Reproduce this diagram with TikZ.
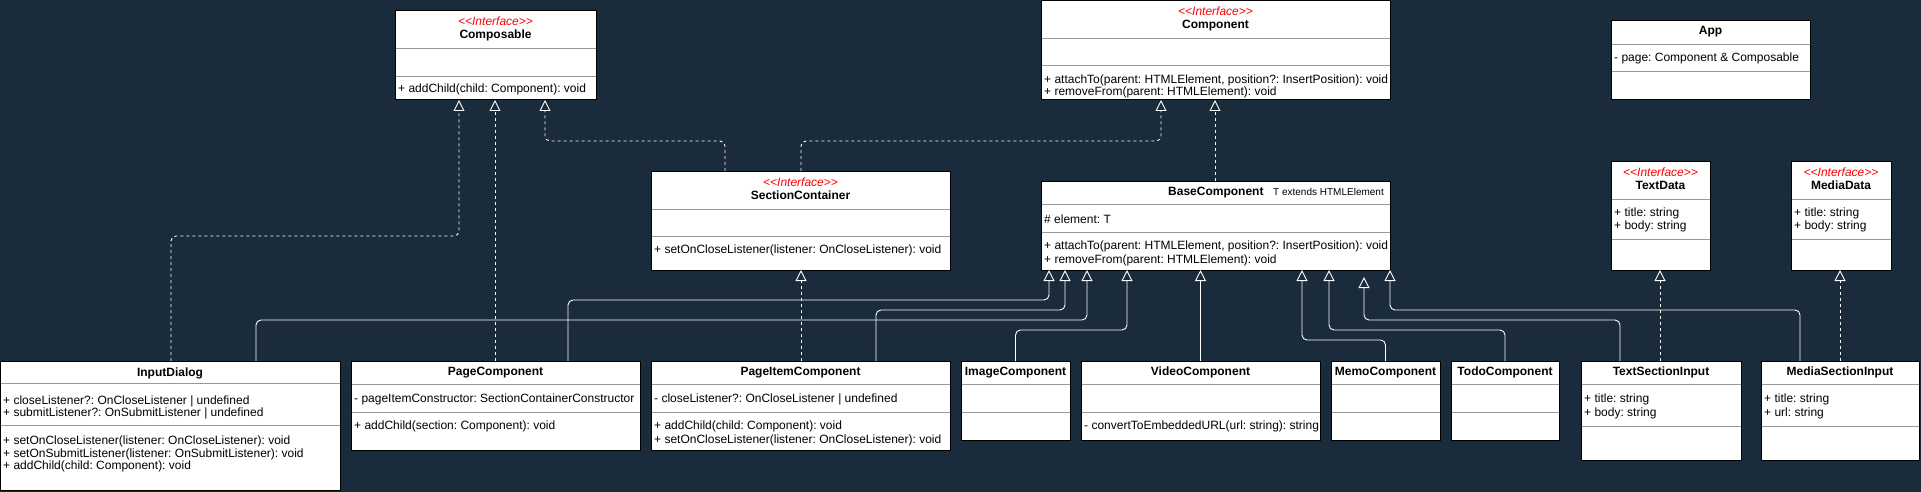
\documentclass[tikz,border=0pt]{standalone}
\usepackage{fontspec}
\setmainfont{Liberation Sans}
\usetikzlibrary{arrows.meta}
\definecolor{bgnavy}{HTML}{1A2B3C}
\definecolor{stereored}{HTML}{FF0000}
\frenchspacing

\newcommand{\stereotype}[1]{<\kern0pt<#1>\kern0pt>}
% name, left, top, right, bottom, first divider, second divider
\newcommand{\classbox}[7]{%
  \node[cls, minimum width=#4-#2, minimum height=#5-#3] (#1) at (#2,#3) {};
  \draw[divider] (#2+0.5,#6) -- (#4-0.5,#6);
  \draw[divider] (#2+0.5,#7) -- (#4-0.5,#7);
}

\begin{document}
\begin{tikzpicture}[x=1pt, y=-1pt,
    every node/.style={inner sep=0, font=\fontsize{12}{14}\selectfont},
    cls/.style={draw=black, fill=white, line width=1pt, anchor=north west, outer sep=0},
    divider/.style={draw=black!40, line width=0.8pt},
    stereo/.style={anchor=base, text=stereored, font=\fontsize{12}{14}\selectfont\itshape},
    cname/.style={anchor=base, font=\fontsize{12}{14}\selectfont\bfseries},
    member/.style={anchor=base west},
    conn/.style={draw=white, line width=0.9pt, rounded corners=5pt,
                 -{Triangle[open, length=11pt, width=11pt]}},
    realize/.style={conn, dash pattern=on 3pt off 3pt},
    inherit/.style={conn}
]
    \fill[bgnavy] (0,0) rectangle (1921,492);
    \useasboundingbox (0,0) rectangle (1921,492);

    % interfaces
    \classbox{composable}{395}{11}{596}{100}{48}{76}
    \node[stereo] (composable-st) at (composable.north |- 0,25.5) {\stereotype{Interface}};
    \node[cname] (composable-nm) at (composable.north |- 0,38.6) {Composable};
    \node[member] (composable-op1) at (398,93) {+ addChild(child: Component): void};

    \classbox{component}{1041}{1}{1390}{100}{38}{65}
    \node[stereo] (component-st) at (component.north |- 0,16) {\stereotype{Interface}};
    \node[cname] (component-nm) at (component.north |- 0,28.6) {Component};
    \node[member] (component-op1) at (1044,83.6) {+ attachTo(parent: HTMLElement, position?: InsertPosition): void};
    \node[member] (component-op2) at (1044,96) {+ removeFrom(parent: HTMLElement): void};

    \classbox{app}{1611}{21}{1810}{100}{44}{71}
    \node[cname] (app-nm) at (app.north |- 0,35) {App};
    \node[member] (app-at1) at (1614,62) {- page: Component \& Composable};

    \classbox{sectioncontainer}{651}{171}{950}{270}{209}{236}
    \node[stereo] (sectioncontainer-st) at (sectioncontainer.north |- 0,186) {\stereotype{Interface}};
    \node[cname] (sectioncontainer-nm) at (sectioncontainer.north |- 0,199.3) {SectionContainer};
    \node[member] (sectioncontainer-op1) at (654,253.6) {+ setOnCloseListener(listener: OnCloseListener): void};

    \classbox{basecomponent}{1041}{181}{1390}{270}{204}{232}
    \node[cname, anchor=base west] (basecomponent-nm) at (1168,195) {BaseComponent};
    \node[anchor=base west, font=\fontsize{10}{12}\selectfont] (basecomponent-tp) at (1273,195) {T extends HTMLElement};
    \node[member] (basecomponent-at1) at (1044,223) {\# element: T};
    \node[member] (basecomponent-op1) at (1044,249.6) {+ attachTo(parent: HTMLElement, position?: InsertPosition): void};
    \node[member] (basecomponent-op2) at (1044,263.6) {+ removeFrom(parent: HTMLElement): void};

    \classbox{textdata}{1611}{161}{1710}{270}{199}{239}
    \node[stereo] (textdata-st) at (textdata.north |- 0,176) {\stereotype{Interface}};
    \node[cname] (textdata-nm) at (textdata.north |- 0,189.3) {TextData};
    \node[member] (textdata-at1) at (1614,216.3) {+ title: string};
    \node[member] (textdata-at2) at (1614,229.6) {+ body: string};

    \classbox{mediadata}{1791}{161}{1891}{270}{199}{239}
    \node[stereo] (mediadata-st) at (mediadata.north |- 0,176) {\stereotype{Interface}};
    \node[cname] (mediadata-nm) at (mediadata.north |- 0,189.3) {MediaData};
    \node[member] (mediadata-at1) at (1794,216.3) {+ title: string};
    \node[member] (mediadata-at2) at (1794,229.6) {+ body: string};

    % classes
    \classbox{inputdialog}{0}{361}{340}{490}{383}{425}
    \node[cname] (inputdialog-nm) at (inputdialog.north |- 0,376) {InputDialog};
    \node[member] (inputdialog-at1) at (3,404) {+ closeListener?: OnCloseListener | undefined};
    \node[member] (inputdialog-at2) at (3,416.3) {+ submitListener?: OnSubmitListener | undefined};
    \node[member] (inputdialog-op1) at (3,444.6) {+ setOnCloseListener(listener: OnCloseListener): void};
    \node[member] (inputdialog-op2) at (3,457.3) {+ setOnSubmitListener(listener: OnSubmitListener): void};
    \node[member] (inputdialog-op3) at (3,469.6) {+ addChild(child: Component): void};

    \classbox{pagecomponent}{351}{361}{640}{450}{384}{412}
    \node[cname] (pagecomponent-nm) at (pagecomponent.north |- 0,375.3) {PageComponent};
    \node[member] (pagecomponent-at1) at (354,402) {- pageItemConstructor: SectionContainerConstructor};
    \node[member] (pagecomponent-op1) at (354,429.3) {+ addChild(section: Component): void};

    \classbox{pageitem}{651}{361}{950}{450}{384}{412}
    \node[cname] (pageitem-nm) at (pageitem.north |- 0,375.3) {PageItemComponent};
    \node[member] (pageitem-at1) at (654,402) {- closeListener?: OnCloseListener | undefined};
    \node[member] (pageitem-op1) at (654,429.3) {+ addChild(child: Component): void};
    \node[member] (pageitem-op2) at (654,443.6) {+ setOnCloseListener(listener: OnCloseListener): void};

    \classbox{image}{961}{361}{1070}{440}{384}{412}
    \node[cname] (image-nm) at (image.north |- 0,375.3) {ImageComponent};

    \classbox{video}{1081}{361}{1320}{440}{384}{412}
    \node[cname] (video-nm) at (video.north |- 0,375.3) {VideoComponent};
    \node[member] (video-op1) at (1084,429.3) {- convertToEmbeddedURL(url: string): string};

    \classbox{memo}{1331}{361}{1440}{440}{384}{412}
    \node[cname] (memo-nm) at (memo.north |- 0,375.3) {MemoComponent};

    \classbox{todo}{1451}{361}{1559}{440}{384}{412}
    \node[cname] (todo-nm) at (todo.north |- 0,375.3) {TodoComponent};

    \classbox{textsection}{1581}{361}{1741}{460}{384}{426}
    \node[cname] (textsection-nm) at (textsection.north |- 0,375.3) {TextSectionInput};
    \node[member] (textsection-at1) at (1584,402) {+ title: string};
    \node[member] (textsection-at2) at (1584,416) {+ body: string};

    \classbox{mediasection}{1761}{361}{1919}{460}{384}{426}
    \node[cname] (mediasection-nm) at (mediasection.north |- 0,375.3) {MediaSectionInput};
    \node[member] (mediasection-at1) at (1764,402) {+ title: string};
    \node[member] (mediasection-at2) at (1764,416) {+ url: string};

    % realizations
    \draw[realize] (inputdialog.north -| 171,0) -- ++(0,-125) -| (composable.south -| 459,0);
    \draw[realize] (pagecomponent.north -| 495,0) -- (composable.south -| 495,0);
    \draw[realize] (sectioncontainer.north -| 725,0) -- ++(0,-30) -| (composable.south -| 545,0);
    \draw[realize] (sectioncontainer.north -| 801,0) -- ++(0,-30) -| (component.south -| 1161,0);
    \draw[realize] (basecomponent.north -| 1215,0) -- (component.south -| 1215,0);
    \draw[realize] (pageitem.north -| 801,0) -- (sectioncontainer.south -| 801,0);
    \draw[realize] (textsection.north -| 1660,0) -- (textdata.south -| 1660,0);
    \draw[realize] (mediasection.north -| 1840,0) -- (mediadata.south -| 1840,0);

    % generalizations
    \draw[inherit] (inputdialog.north -| 256,0) -- ++(0,-41) -| (basecomponent.south -| 1087,0);
    \draw[inherit] (pagecomponent.north -| 568,0) -- ++(0,-61) -| (basecomponent.south -| 1049,0);
    \draw[inherit] (pageitem.north -| 876,0) -- ++(0,-51) -| (basecomponent.south -| 1065,0);
    \draw[inherit] (image.north) -- ++(0,-31) -| (basecomponent.south -| 1127,0);
    \draw[inherit] (video.north) -- (basecomponent.south -| video.north);
    \draw[inherit] (memo.north) -- ++(0,-21) -| (basecomponent.south -| 1302,0);
    \draw[inherit] (todo.north) -- ++(0,-31) -| (basecomponent.south -| 1329,0);
    \coordinate (textsection-tip) at (1364,277);
    \draw[inherit] (textsection.north -| 1620,0) -- ++(0,-41) -| (textsection-tip);
    \draw[inherit] (mediasection.north -| 1800,0) -- ++(0,-51) -| (basecomponent.south -| 1390,0);
\end{tikzpicture}
\end{document}
